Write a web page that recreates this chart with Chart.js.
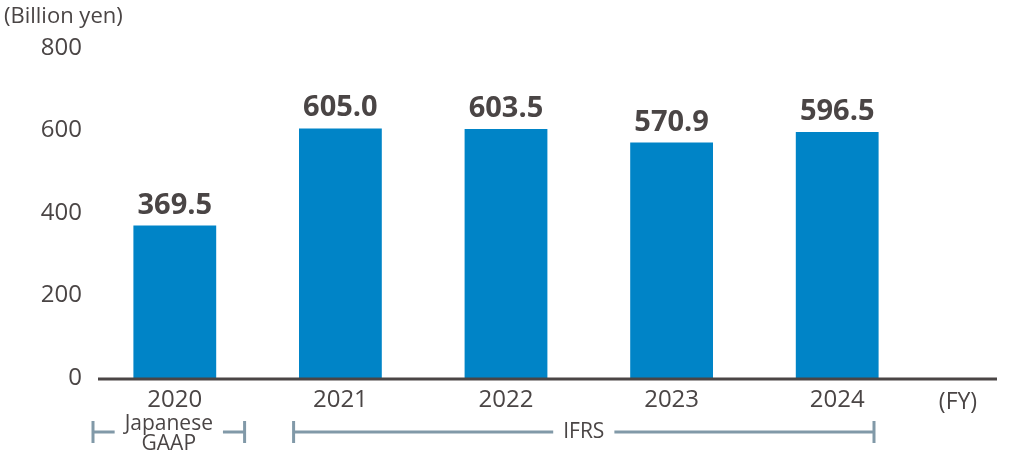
<!DOCTYPE html>
<html>
<head>
<meta charset="utf-8">
<script src="https://cdn.jsdelivr.net/npm/chart.js@4"></script>
<style>
  html, body { margin: 0; padding: 0; background: #fff; }
  #wrap { width: 1011px; height: 461px; position: relative; }
</style>
</head>
<body>
<div id="wrap"><canvas id="sales_chart"></canvas></div>
<script>
var years = ['2020', '2021', '2022', '2023', '2024'];
var sales = [369.5, 605.0, 603.5, 570.9, 596.5];
var yTicks = [0, 200, 400, 600, 800];
var unitLabel = '(Billion yen)';
var fyLabel = '(FY)';
// accounting standard brackets: [first year index, last year index, text lines]
var standards = [
    [0, 0, ['Japanese', 'GAAP']],
    [1, 4, ['IFRS']]
];

var textColor = '#4a4545';
var barColor = '#0084c7';
var bracketColor = '#8199a8';
var fontName = "'Open Sans', 'Noto Sans', sans-serif";

// draws value labels, unit, axis line, (FY) and brackets
var extras = {
    id: 'extras',
    afterDatasetsDraw: function(chart) {
        var ctx = chart.ctx;
        var area = chart.chartArea;
        var x = chart.scales.x;
        ctx.save();

        // value labels
        ctx.fillStyle = textColor;
        ctx.font = 'bold 29px ' + fontName;
        ctx.textAlign = 'center';
        ctx.textBaseline = 'alphabetic';
        chart.getDatasetMeta(0).data.forEach(function(bar, i) {
            ctx.fillText(sales[i].toFixed(1), bar.x, bar.y - 12);
        });

        // unit
        ctx.font = '22px ' + fontName;
        ctx.textAlign = 'left';
        ctx.textBaseline = 'middle';
        ctx.fillText(unitLabel, 4, 17);

        // x axis line, runs past the last bar
        ctx.strokeStyle = textColor;
        ctx.lineWidth = 3;
        ctx.beginPath();
        ctx.moveTo(98, area.bottom + 1);
        ctx.lineTo(997, area.bottom + 1);
        ctx.stroke();

        ctx.font = '23px ' + fontName;
        ctx.textAlign = 'center';
        ctx.fillText(fyLabel, 958, 402);

        // brackets
        var half = x.getPixelForValue(1) - x.getPixelForValue(0);
        half = half / 2;
        ctx.strokeStyle = bracketColor;
        ctx.lineWidth = 3;
        ctx.font = '21px ' + fontName;
        ctx.fillStyle = textColor;
        var yLine = 432;
        standards.forEach(function(s) {
            var left = x.getPixelForValue(s[0]) - half + (s[0] == 0 ? 1 : 36);
            var right = x.getPixelForValue(s[1]) + half - (s[1] == 0 ? 13 : 46);
            var mid = (left + right) / 2;
            var lines = s[2];
            var w = 0;
            lines.forEach(function(t) { w = Math.max(w, ctx.measureText(t).width); });
            var gap = w / 2 + 10;
            ctx.beginPath();
            ctx.moveTo(left, 421); ctx.lineTo(left, 443);
            ctx.moveTo(left, yLine); ctx.lineTo(mid - gap, yLine);
            ctx.moveTo(mid + gap, yLine); ctx.lineTo(right, yLine);
            ctx.moveTo(right, 421); ctx.lineTo(right, 443);
            ctx.stroke();
            if (lines.length == 1) {
                ctx.fillText(lines[0], mid, yLine);
            } else {
                ctx.fillText(lines[0], mid, yLine - 8);
                ctx.fillText(lines[1], mid, yLine + 12);
            }
        });

        ctx.restore();
    }
};

var ctx = document.getElementById('sales_chart').getContext('2d');
var salesChart = new Chart(ctx, {
    type: 'bar',
    data: {
        labels: years,
        datasets: [{
            data: sales,
            backgroundColor: barColor,
            borderWidth: 0,
            barPercentage: 0.5,
            categoryPercentage: 1.0
        }]
    },
    options: {
        responsive: true,
        maintainAspectRatio: false,
        animation: false,
        layout: { padding: { top: 48, right: 91, left: 0, bottom: 0 } },
        plugins: {
            legend: { display: false },
            tooltip: { enabled: false }
        },
        scales: {
            x: {
                grid: { display: false, drawTicks: false },
                border: { display: false },
                ticks: {
                    color: textColor,
                    font: { family: fontName, size: 24 },
                    padding: 8
                },
                afterFit: function(scale) { scale.height = 83; }
            },
            y: {
                min: 0,
                max: 800,
                grid: { display: false, drawTicks: false },
                border: { display: false },
                afterBuildTicks: function(scale) {
                    scale.ticks = yTicks.map(function(v) { return { value: v }; });
                },
                ticks: {
                    color: textColor,
                    font: { family: fontName, size: 24 },
                    padding: 10
                },
                afterFit: function(scale) { scale.width = 92; }
            }
        }
    },
    plugins: [extras]
});
</script>
</body>
</html>
